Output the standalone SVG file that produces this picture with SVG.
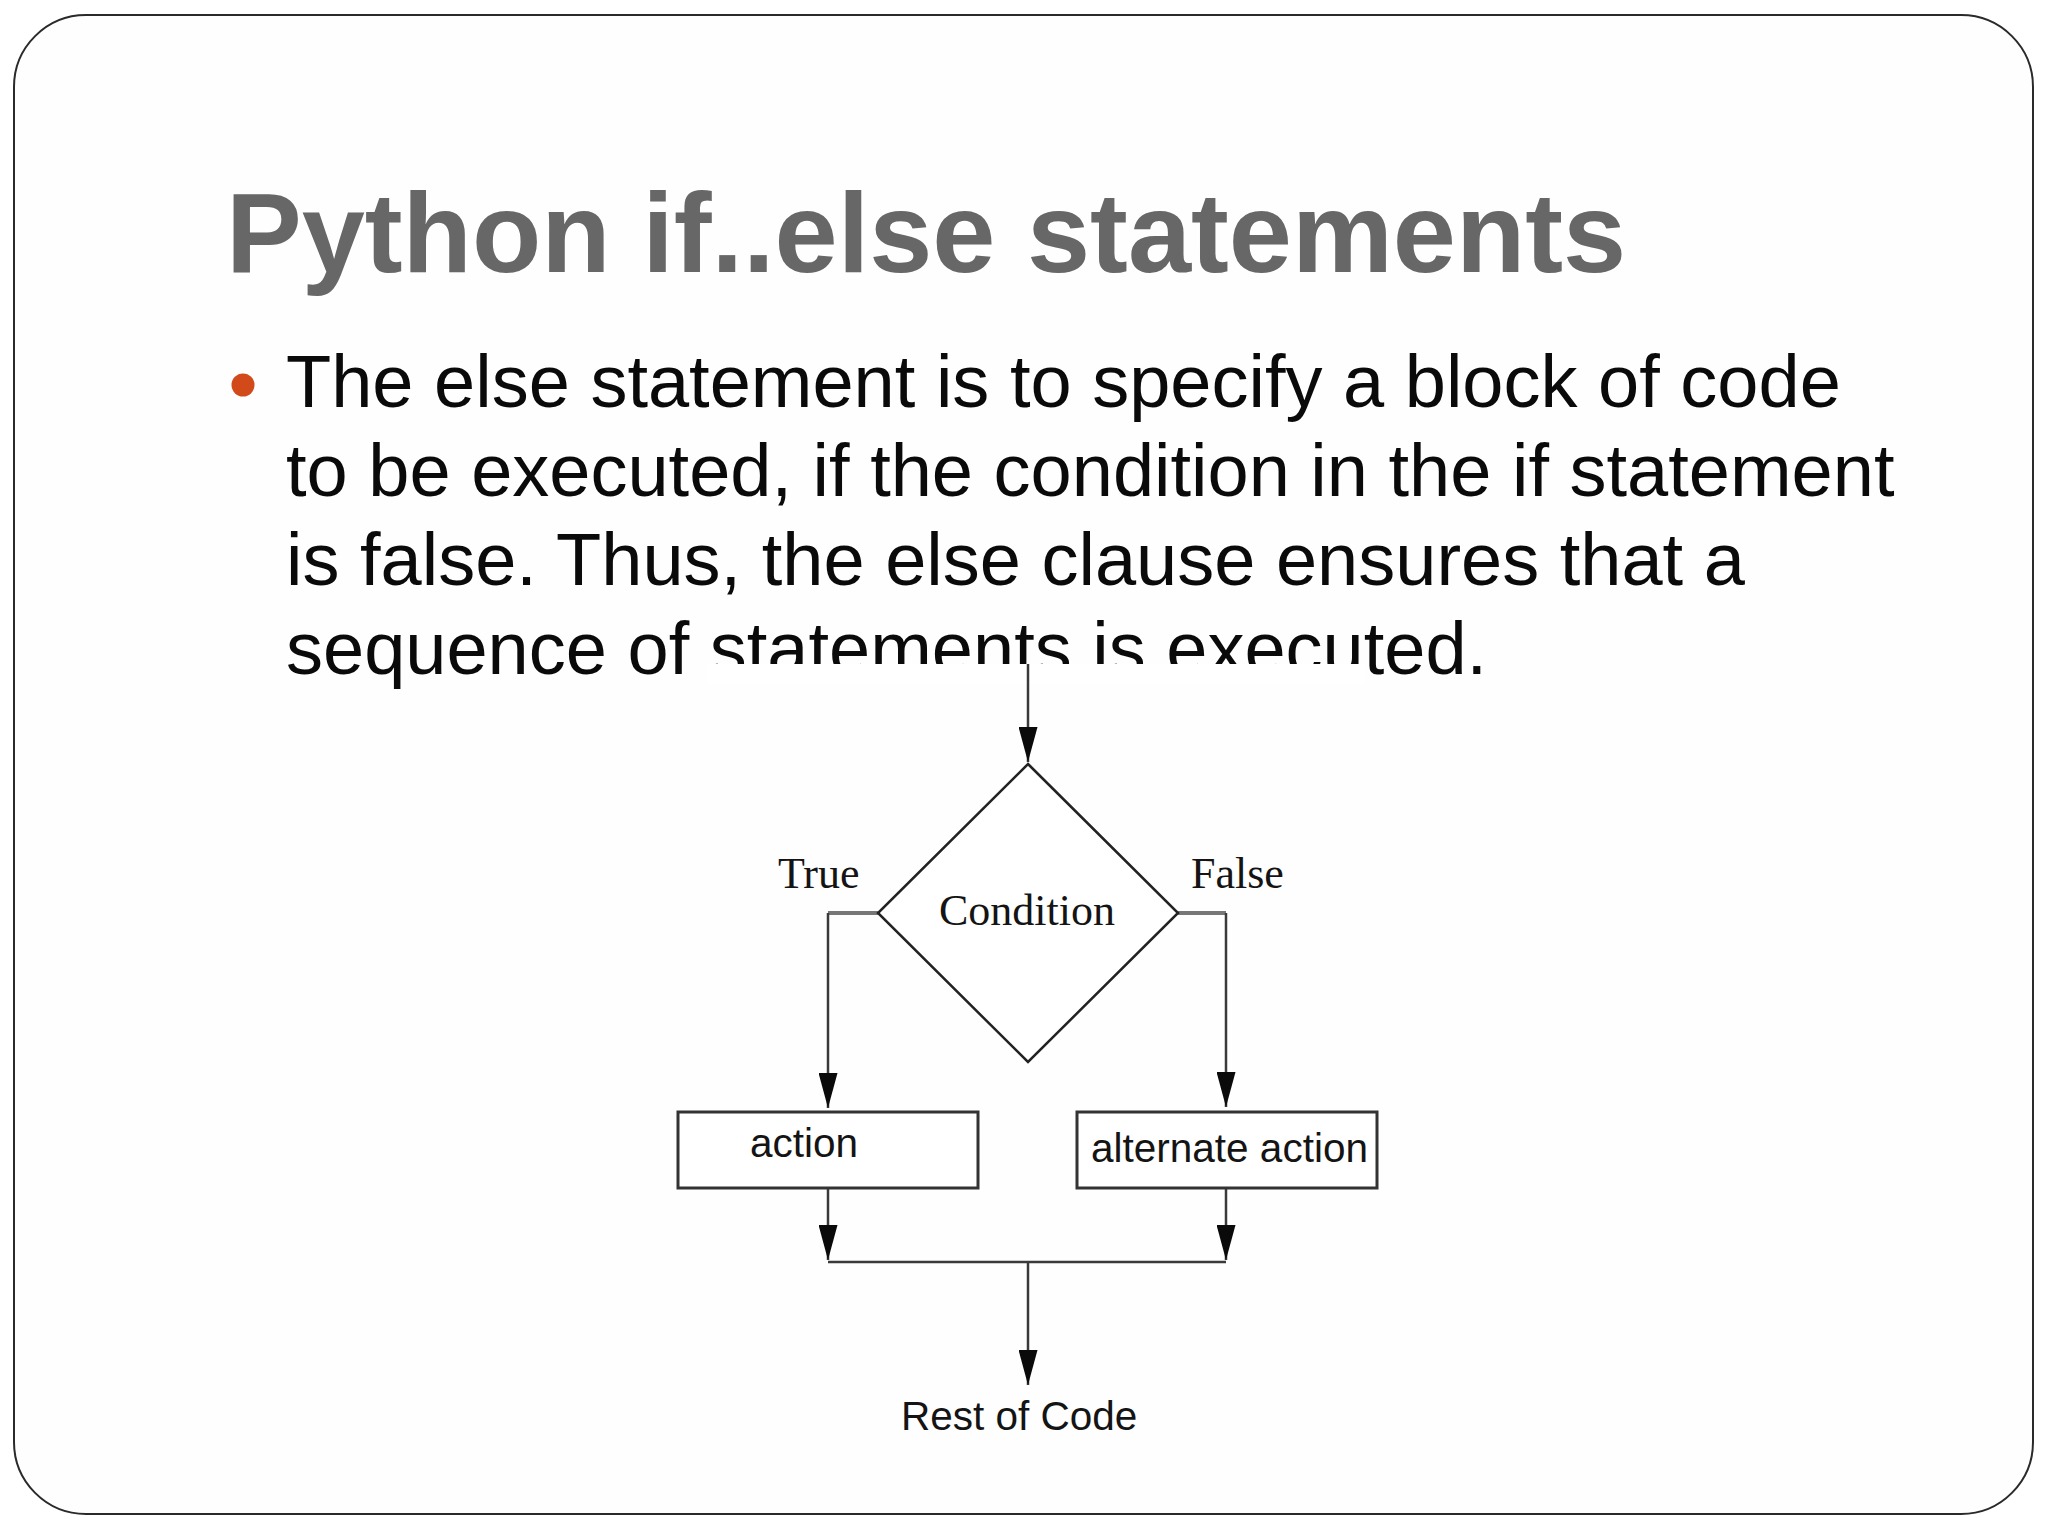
<svg xmlns="http://www.w3.org/2000/svg" width="2048" height="1536" viewBox="0 0 2048 1536">
<defs>
<style>
.title{font-family:"Liberation Sans",Arial,sans-serif;font-weight:bold;font-size:113.5px;fill:#676767}
.body{font-family:"Liberation Sans",Arial,sans-serif;font-size:74px;fill:#0a0a0a}
.serif{font-family:"Liberation Serif","Times New Roman",serif;font-size:44px;fill:#141414}
.sans{font-family:"Liberation Sans",Arial,sans-serif;font-size:40.5px;fill:#141414}
.shape{fill:#ffffff;stroke:#222222;stroke-width:2.5}
.box{fill:#ffffff;stroke:#333333;stroke-width:3}
.conn{fill:none;stroke:#3a3a3a;stroke-width:2.5}
.stub{fill:none;stroke:#777777;stroke-width:4}
</style>
<marker id="arrow" viewBox="0 0 35 19" refX="35" refY="9.5" markerWidth="35" markerHeight="19" markerUnits="userSpaceOnUse" orient="auto">
<path d="M0,0 L35,9.5 L0,19 z" fill="#0a0a0a"/>
</marker>
</defs>
<rect x="0" y="0" width="2048" height="1536" fill="#ffffff"/>
<rect id="frame" x="14" y="15" width="2019" height="1499" rx="72" ry="72" fill="#fefefe" stroke="#2a2a2a" stroke-width="2"/>
<g id="title">
<text class="title" x="226" y="272">Python if..else statements</text>
</g>
<g id="bullet-text">
<circle cx="243" cy="385" r="11.5" fill="#d34a1a"/>
<text class="body" x="286" y="407">The else statement is to specify a block of code</text>
<text class="body" x="286" y="496">to be executed, if the condition in the if statement</text>
<text class="body" x="286" y="585">is false. Thus, the else clause ensures that a</text>
<text class="body" x="286" y="674">sequence of statements is executed.</text>
</g>
<rect id="chart-bg" x="707" y="664" width="658" height="20" fill="#ffffff"/>
<g id="connectors">
<line class="conn" x1="1028" y1="664" x2="1028" y2="762" marker-end="url(#arrow)"/>
<line class="stub" x1="878" y1="913" x2="828" y2="913"/>
<line class="conn" x1="828" y1="913" x2="828" y2="1108" marker-end="url(#arrow)"/>
<line class="stub" x1="1178" y1="913" x2="1226" y2="913"/>
<line class="conn" x1="1226" y1="913" x2="1226" y2="1107" marker-end="url(#arrow)"/>
<line class="conn" x1="828" y1="1188" x2="828" y2="1260" marker-end="url(#arrow)"/>
<line class="conn" x1="1226" y1="1188" x2="1226" y2="1260" marker-end="url(#arrow)"/>
<line class="conn" x1="828" y1="1262" x2="1226" y2="1262" stroke="#555555" stroke-width="3.5"/>
<line class="conn" x1="1028" y1="1262" x2="1028" y2="1385" stroke="#555555" stroke-width="3" marker-end="url(#arrow)"/>
<text class="serif" x="778" y="888">True</text>
<text class="serif" x="1191" y="888" font-size="43">False</text>
</g>
<g id="condition">
<polygon class="shape" points="1028,764 1178,913 1028,1062 878,913"/>
<text class="serif" x="1027" y="925" text-anchor="middle">Condition</text>
</g>
<g id="action">
<rect class="box" x="678" y="1112" width="300" height="76"/>
<text class="sans" x="750" y="1157">action</text>
</g>
<g id="alternate-action">
<rect class="box" x="1077" y="1112" width="300" height="76"/>
<text class="sans" x="1091" y="1162">alternate action</text>
</g>
<g id="rest-of-code">
<text class="sans" x="901" y="1430">Rest of Code</text>
</g>
</svg>
